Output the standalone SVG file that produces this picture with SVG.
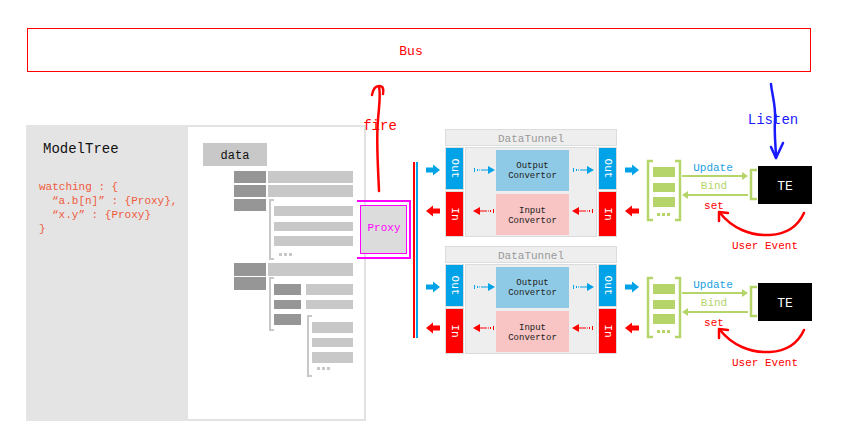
<svg xmlns="http://www.w3.org/2000/svg" width="850" height="448" viewBox="0 0 850 448">
<defs>
<style>
.mono{font-family:"Liberation Mono","DejaVu Sans Mono",monospace}
.dk{fill:#969696}
.lt{fill:#c8c8c8}
.brk{fill:none;stroke:#c8c8c8;stroke-width:2}
.title{fill:#eeeeee;stroke:#dcdcdc;stroke-width:1}
.box{stroke:#dcdcdc;stroke-width:1}
.out{fill:#00a2e8}
.in{fill:#ff0000}
.mid{fill:#eeeeee;stroke:#dcdcdc;stroke-width:1}
.oc{fill:#8ecae6}
.ic{fill:#f8c4c4}
.vt{fill:#ffffff;font-size:11px;text-anchor:middle;dominant-baseline:central}
.ct{fill:#222;font-size:9px;text-anchor:middle}
.gb{fill:none;stroke:#b5d56a;stroke-width:2.5}
.gl{fill:#b5d56a}
.gline{stroke:#b5d56a;stroke-width:2;fill:none}
.hand{fill:none;stroke-width:2.5;stroke-linecap:round;stroke-linejoin:round}
</style>
</defs>

<g id="bus">
<rect x="27.5" y="28.5" width="783" height="43" fill="#fff" stroke="#ff0000" stroke-width="1"/>
<text x="411" y="55" class="mono" font-size="13" fill="#ff0000" text-anchor="middle">Bus</text>
</g>

<g id="modeltree">
<rect x="27" y="126" width="338" height="294" fill="#fff" stroke="#e2e2e2" stroke-width="2"/>
<rect x="26" y="125" width="162" height="296" fill="#e4e4e4"/>
<text x="43" y="153" class="mono" font-size="14" fill="#111">ModelTree</text>
<g class="mono" font-size="11" fill="#f05a3c">
<text x="39" y="190">watching : {</text>
<text x="52" y="204">“a.b[n]” : {Proxy},</text>
<text x="52" y="218">“x.y” : {Proxy}</text>
<text x="39" y="232">}</text>
</g>
</g>

<g id="data-tree">
<rect x="203" y="143" width="64" height="23" class="lt"/>
<text x="235" y="159" class="mono" font-size="12" fill="#111" text-anchor="middle">data</text>
<rect x="234" y="171" width="32" height="12" class="dk"/><rect x="268" y="171" width="85" height="12" class="lt"/>
<rect x="234" y="185" width="32" height="12" class="dk"/><rect x="268" y="185" width="85" height="12" class="lt"/>
<rect x="234" y="199" width="32" height="12" class="dk"/>
<path d="M274,200H270V259H274" class="brk"/>
<rect x="274" y="206" width="79" height="10" class="lt"/>
<rect x="274" y="222" width="79" height="9" class="lt"/>
<rect x="274" y="236" width="79" height="10" class="lt"/>
<rect x="279" y="253" width="3" height="3" class="lt"/><rect x="284" y="253" width="3" height="3" class="lt"/><rect x="289" y="253" width="3" height="3" class="lt"/>
<rect x="234" y="263" width="32" height="13" class="dk"/><rect x="268" y="263" width="85" height="13" class="lt"/>
<rect x="234" y="277" width="32" height="13" class="dk"/>
<path d="M274,278H270V330H274" class="brk"/>
<rect x="274" y="284" width="27" height="11" class="dk"/><rect x="306" y="284" width="47" height="11" class="lt"/>
<rect x="274" y="300" width="27" height="9" class="dk"/><rect x="306" y="300" width="47" height="9" class="lt"/>
<rect x="274" y="314" width="27" height="11" class="dk"/>
<path d="M312,316H308V376H312" class="brk"/>
<rect x="312" y="322" width="41" height="11" class="lt"/>
<rect x="312" y="338" width="41" height="9" class="lt"/>
<rect x="312" y="352" width="41" height="11" class="lt"/>
<rect x="317" y="367" width="3" height="3" class="lt"/><rect x="322" y="367" width="3" height="3" class="lt"/><rect x="327" y="367" width="3" height="3" class="lt"/>
</g>

<g id="proxy">
<path d="M357,201H410V258H357" fill="none" stroke="#ff00ff" stroke-width="2"/>
<rect x="360.5" y="205.5" width="46" height="48" fill="#dcdcdc" stroke="#ff00ff" stroke-width="1"/>
<text x="384" y="231" class="mono" font-size="11" fill="#ff00ff" text-anchor="middle">Proxy</text>
</g>

<g id="fire">
<path d="M379,191C378,165 376,140 378,120C379,105 381,95 379,87" class="hand" stroke="#ff0000"/>
<path d="M372,95C373,89 375,86 379,86C383,86 384,89 383,94" class="hand" stroke="#ff0000"/>
<text x="380" y="130" class="mono" font-size="14" fill="#ff0000" text-anchor="middle">fire</text>
</g>

<g id="connectors">
<line x1="414" y1="162" x2="414" y2="338" stroke="#ff0000" stroke-width="2"/>
<line x1="417" y1="162" x2="417" y2="338" stroke="#00a2e8" stroke-width="2"/>
<g id="arrows-1">
<polygon points="426,167.5 433,167.5 433,164.5 440,170 433,175.5 433,172.5 426,172.5" fill="#00a2e8"/>
<polygon points="440,208.5 433,208.5 433,205.5 426,211 433,216.5 433,213.5 440,213.5" fill="#ff0000"/>
<polygon points="625,167.5 632,167.5 632,164.5 639,170 632,175.5 632,172.5 625,172.5" fill="#00a2e8"/>
<polygon points="639,208.5 632,208.5 632,205.5 625,211 632,216.5 632,213.5 639,213.5" fill="#ff0000"/>
</g>
<g id="arrows-2" transform="translate(0,117)">
<polygon points="426,167.5 433,167.5 433,164.5 440,170 433,175.5 433,172.5 426,172.5" fill="#00a2e8"/>
<polygon points="440,208.5 433,208.5 433,205.5 426,211 433,216.5 433,213.5 440,213.5" fill="#ff0000"/>
<polygon points="625,167.5 632,167.5 632,164.5 639,170 632,175.5 632,172.5 625,172.5" fill="#00a2e8"/>
<polygon points="639,208.5 632,208.5 632,205.5 625,211 632,216.5 632,213.5 639,213.5" fill="#ff0000"/>
</g>
<g id="binds-1">
<path d="M682,176H746" class="gline"/><polygon points="742,172 748,176 742,180" class="gl"/>
<path d="M684,195H748" class="gline"/><polygon points="688,191 682,195 688,199" class="gl"/>
</g>
<g id="binds-2" transform="translate(0,117)">
<path d="M682,176H746" class="gline"/><polygon points="742,172 748,176 742,180" class="gl"/>
<path d="M684,195H748" class="gline"/><polygon points="688,191 682,195 688,199" class="gl"/>
</g>
</g>

<g id="tunnel-1">
<rect x="445.5" y="129.5" width="171" height="16" class="title"/>
<text x="531" y="141.5" class="mono" font-size="11" fill="#999" text-anchor="middle">DataTunnel</text>
<rect x="445.5" y="147.5" width="18" height="42" class="box out"/>
<rect x="445.5" y="191.5" width="18" height="45" class="box in"/>
<text class="mono vt" transform="translate(454.5,168.5) rotate(90)">Out</text>
<text class="mono vt" transform="translate(454.5,214) rotate(90)">In</text>
<rect x="465.5" y="147.5" width="131" height="89" class="mid"/>
<rect x="496" y="150" width="73" height="41" class="oc"/>
<rect x="496" y="194" width="73" height="41" class="ic"/>
<text x="532.5" y="167.5" class="mono ct">Output</text>
<text x="532.5" y="177.5" class="mono ct">Convertor</text>
<text x="532.5" y="213" class="mono ct">Input</text>
<text x="532.5" y="223" class="mono ct">Convertor</text>
<rect x="598.5" y="147.5" width="18" height="42" class="box out"/>
<rect x="598.5" y="191.5" width="18" height="45" class="box in"/>
<text class="mono vt" transform="translate(607.5,168.5) rotate(90)">Out</text>
<text class="mono vt" transform="translate(607.5,214) rotate(90)">In</text>
<g stroke="#00a2e8" stroke-width="1" fill="none">
<path d="M474.5,168V172M477.5,169V171M479.5,169.5V170.5M481,170H490"/>
<path d="M573.5,168V172M576.5,169V171M578.5,169.5V170.5M580,170H589"/>
</g>
<polygon points="488,166 495,170 488,174" fill="#00a2e8"/>
<polygon points="587,166 594,170 587,174" fill="#00a2e8"/>
<g stroke="#ff0000" stroke-width="1" fill="none">
<path d="M493.5,209V213M490.5,210V212M488.5,210.5V211.5M479,211H487"/>
<path d="M592.5,209V213M589.5,210V212M587.5,210.5V211.5M578,211H586"/>
</g>
<polygon points="480,207 473,211 480,215" fill="#ff0000"/>
<polygon points="579,207 572,211 579,215" fill="#ff0000"/>
</g>

<g id="tunnel-2" transform="translate(0,117)">
<rect x="445.5" y="129.5" width="171" height="16" class="title"/>
<text x="531" y="141.5" class="mono" font-size="11" fill="#999" text-anchor="middle">DataTunnel</text>
<rect x="445.5" y="147.5" width="18" height="42" class="box out"/>
<rect x="445.5" y="191.5" width="18" height="45" class="box in"/>
<text class="mono vt" transform="translate(454.5,168.5) rotate(90)">Out</text>
<text class="mono vt" transform="translate(454.5,214) rotate(90)">In</text>
<rect x="465.5" y="147.5" width="131" height="89" class="mid"/>
<rect x="496" y="150" width="73" height="41" class="oc"/>
<rect x="496" y="194" width="73" height="41" class="ic"/>
<text x="532.5" y="167.5" class="mono ct">Output</text>
<text x="532.5" y="177.5" class="mono ct">Convertor</text>
<text x="532.5" y="213" class="mono ct">Input</text>
<text x="532.5" y="223" class="mono ct">Convertor</text>
<rect x="598.5" y="147.5" width="18" height="42" class="box out"/>
<rect x="598.5" y="191.5" width="18" height="45" class="box in"/>
<text class="mono vt" transform="translate(607.5,168.5) rotate(90)">Out</text>
<text class="mono vt" transform="translate(607.5,214) rotate(90)">In</text>
<g stroke="#00a2e8" stroke-width="1" fill="none">
<path d="M474.5,168V172M477.5,169V171M479.5,169.5V170.5M481,170H490"/>
<path d="M573.5,168V172M576.5,169V171M578.5,169.5V170.5M580,170H589"/>
</g>
<polygon points="488,166 495,170 488,174" fill="#00a2e8"/>
<polygon points="587,166 594,170 587,174" fill="#00a2e8"/>
<g stroke="#ff0000" stroke-width="1" fill="none">
<path d="M493.5,209V213M490.5,210V212M488.5,210.5V211.5M479,211H487"/>
<path d="M592.5,209V213M589.5,210V212M587.5,210.5V211.5M578,211H586"/>
</g>
<polygon points="480,207 473,211 480,215" fill="#ff0000"/>
<polygon points="579,207 572,211 579,215" fill="#ff0000"/>
</g>

<g id="list-1">
<path d="M653,161H648V220H653M675,161H680V220H675" class="gb"/>
<rect x="653" y="167" width="22" height="10" class="gl"/>
<rect x="653" y="183" width="22" height="9" class="gl"/>
<rect x="653" y="197" width="22" height="10" class="gl"/>
<rect x="657" y="213" width="3" height="3" class="gl"/><rect x="662" y="213" width="3" height="3" class="gl"/><rect x="667" y="213" width="3" height="3" class="gl"/>
</g>
<g id="list-2" transform="translate(0,117)">
<path d="M653,161H648V220H653M675,161H680V220H675" class="gb"/>
<rect x="653" y="167" width="22" height="10" class="gl"/>
<rect x="653" y="183" width="22" height="9" class="gl"/>
<rect x="653" y="197" width="22" height="10" class="gl"/>
<rect x="657" y="213" width="3" height="3" class="gl"/><rect x="662" y="213" width="3" height="3" class="gl"/><rect x="667" y="213" width="3" height="3" class="gl"/>
</g>

<g id="labels-1" class="mono" font-size="11" text-anchor="middle">
<text x="713" y="171" fill="#1ba1e2">Update</text>
<text x="714" y="189" fill="#b5d56a">Bind</text>
<text x="714" y="209" fill="#ff0000">set</text>
</g>
<g id="labels-2" class="mono" font-size="11" text-anchor="middle" transform="translate(0,117)">
<text x="713" y="171" fill="#1ba1e2">Update</text>
<text x="714" y="189" fill="#b5d56a">Bind</text>
<text x="714" y="209" fill="#ff0000">set</text>
</g>

<g id="te-1">
<path d="M757,170H751V199H757" class="gb"/>
<rect x="758" y="166" width="54" height="38" fill="#000"/>
<text x="785" y="190" class="mono" font-size="13" fill="#fff" text-anchor="middle">TE</text>
</g>
<g id="te-2" transform="translate(0,117)">
<path d="M757,170H751V199H757" class="gb"/>
<rect x="758" y="166" width="54" height="38" fill="#000"/>
<text x="785" y="190" class="mono" font-size="13" fill="#fff" text-anchor="middle">TE</text>
</g>

<g id="listen">
<path d="M771,84C772,95 776,105 775,120C774,135 776,148 776,158" class="hand" stroke="#1a1aff"/>
<path d="M771,147L776,158L783,143" class="hand" stroke="#1a1aff"/>
<text x="773" y="124" class="mono" font-size="14" fill="#1a1aff" text-anchor="middle">Listen</text>
</g>

<g id="user-event-1">
<path d="M804,213C798,226 788,234 770,235C750,236 732,228 720,213" class="hand" stroke="#ff0000"/>
<path d="M719,221L719,212L728,213" class="hand" stroke="#ff0000"/>
<text x="765" y="249" class="mono" font-size="11" fill="#ff0000" text-anchor="middle">User Event</text>
</g>
<g id="user-event-2" transform="translate(0,117)">
<path d="M804,213C798,226 788,234 770,235C750,236 732,228 720,213" class="hand" stroke="#ff0000"/>
<path d="M719,221L719,212L728,213" class="hand" stroke="#ff0000"/>
<text x="765" y="249" class="mono" font-size="11" fill="#ff0000" text-anchor="middle">User Event</text>
</g>
</svg>
